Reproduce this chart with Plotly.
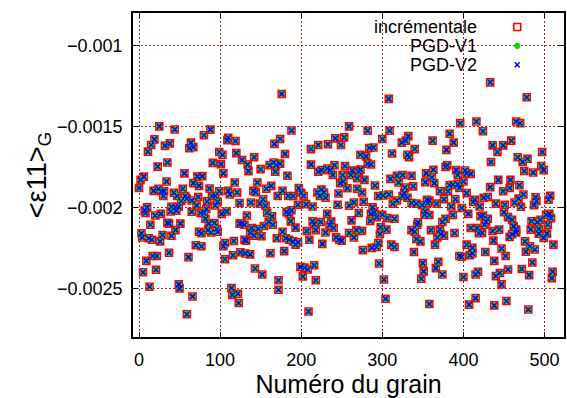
import plotly.graph_objects as go

# ---------------- data ----------------
# grain numbers and mean strain <eps11>_G (in units of 1e-3), grouped by grain range
g1 = [25, 44, 19, 15, 11, 32, 38, 23, 35, 56,
      6, 2, 34, 0, 18, 24, 28, 31, 30, 43,
      47, 54, 57, 52, 10, 7, 8, 20, 27, 40,
      45, 49, 46, 39, 37, 35, 51, 14, 45, 40,
      29, 3, 4, 12, 16, 26, 17, 22, 37, 9,
      21, 5, 13, 49, 50, 59]
e1 = [-1.500, -1.519, -1.580, -1.615, -1.656, -1.620, -1.605, -1.748, -1.723, -1.790,
      -1.810, -1.830, -1.840, -1.880, -1.898, -1.885, -1.900, -1.900, -1.930, -1.910,
      -1.930, -1.885, -1.930, -1.960, -2.000, -2.020, -2.035, -2.050, -2.040, -1.996,
      -1.998, -1.996, -2.020, -2.025, -2.100, -2.095, -2.100, -2.107, -2.140, -2.175,
      -2.170, -2.160, -2.186, -2.190, -2.200, -2.210, -2.300, -2.300, -2.280, -2.330,
      -2.385, -2.400, -2.490, -2.475, -2.500, -2.660]

g2 = [88, 80, 64, 62, 67, 110, 109, 119, 99, 103,
      120, 91, 101, 104, 72, 78, 67, 74, 118, 87,
      99, 110, 112, 121, 90, 94, 73, 84, 97, 65,
      59, 71, 94, 83, 65, 76, 80, 102, 108, 124,
      82, 86, 93, 96, 97, 85, 89, 74, 77, 124,
      70, 77, 61, 106, 104, 117, 106, 116, 125, 66,
      114, 115, 122, 123]
e2 = [-1.520, -1.555, -1.600, -1.635, -1.628, -1.570, -1.585, -1.590, -1.658, -1.675,
      -1.665, -1.725, -1.733, -1.790, -1.810, -1.807, -1.850, -1.867, -1.846, -1.883,
      -1.900, -1.897, -1.920, -1.908, -1.930, -1.930, -1.936, -1.963, -1.965, -1.957,
      -1.945, -1.988, -1.988, -2.010, -2.027, -2.035, -2.035, -2.040, -2.025, -1.973,
      -2.070, -2.100, -2.096, -2.133, -2.150, -2.140, -2.155, -2.150, -2.160, -2.100,
      -2.234, -2.240, -2.307, -2.220, -2.240, -2.207, -2.320, -2.295, -2.277, -2.550,
      -2.498, -2.540, -2.533, -2.590]

g3 = [176, 188, 174, 167, 180, 127, 142, 134, 135, 150,
      161, 166, 169, 174, 168, 183, 146, 141, 144, 157,
      163, 177, 171, 184, 190, 138, 153, 149, 156, 133,
      158, 164, 160, 165, 182, 185, 188, 187, 127, 130,
      139, 137, 147, 154, 142, 151, 177, 170, 181, 185,
      190, 130, 132, 179, 162, 131, 137, 143, 152, 172,
      172]
e3 = [-1.300, -1.525, -1.578, -1.608, -1.670, -1.707, -1.690, -1.735, -1.776, -1.764,
      -1.740, -1.723, -1.740, -1.730, -1.780, -1.805, -1.846, -1.898, -1.906, -1.885,
      -1.867, -1.897, -1.930, -1.930, -1.930, -1.970, -1.950, -1.977, -1.990, -2.050,
      -2.033, -2.055, -2.088, -2.107, -2.029, -2.040, -2.018, -2.086, -2.098, -2.107,
      -2.127, -2.158, -2.133, -2.115, -2.174, -2.178, -2.150, -2.190, -2.190, -2.200,
      -2.210, -2.200, -2.205, -2.270, -2.283, -2.285, -2.290, -2.377, -2.414, -2.450,
      -2.508]

g4 = [242, 253, 259, 233, 249, 221, 212, 212, 221, 225,
      232, 236, 241, 239, 254, 251, 248, 252, 197, 200,
      203, 220, 225, 228, 223, 230, 246, 196, 206, 214,
      245, 232, 214, 216, 224, 237, 235, 240, 218, 207,
      230, 243, 250, 247, 193, 210, 226, 196, 193, 199,
      204, 208, 216, 202, 218, 209, 257]
e4 = [-1.574, -1.568, -1.500, -1.610, -1.615, -1.615, -1.640, -1.736, -1.780, -1.770,
      -1.760, -1.770, -1.740, -1.800, -1.745, -1.800, -1.850, -1.840, -1.880, -1.910,
      -1.930, -1.908, -1.890, -1.908, -1.930, -1.940, -1.914, -1.984, -1.980, -1.994,
      -1.984, -2.040, -2.086, -2.104, -2.090, -2.088, -2.110, -2.127, -2.140, -2.146,
      -2.155, -2.185, -2.205, -2.200, -2.125, -2.200, -2.225, -2.215, -2.230, -2.367,
      -2.372, -2.383, -2.357, -2.426, -2.450, -2.643, -1.882]

g5 = [308, 282, 309, 300, 284, 289, 312, 273, 280, 282,
      286, 273, 271, 263, 261, 269, 278, 291, 310, 318,
      320, 269, 275, 295, 301, 308, 313, 318, 277, 265,
      259, 288, 290, 286, 271, 293, 300, 306, 315, 262,
      285, 298, 305, 268, 275, 259, 265, 297, 295, 293,
      287, 276, 311, 315, 296, 302, 304]
e5 = [-1.330, -1.527, -1.527, -1.578, -1.633, -1.630, -1.667, -1.675, -1.685, -1.730,
      -1.735, -1.767, -1.780, -1.773, -1.800, -1.820, -1.830, -1.865, -1.824, -1.805,
      -1.846, -1.885, -1.908, -1.930, -1.927, -1.920, -1.977, -1.957, -1.965, -1.970,
      -1.990, -2.000, -2.030, -2.040, -2.035, -2.060, -2.045, -2.066, -2.070, -2.080,
      -2.084, -2.123, -2.137, -2.140, -2.146, -2.158, -2.186, -2.164, -2.220, -2.244,
      -2.250, -2.264, -2.230, -2.244, -2.346, -2.445, -2.564]

g6 = [383, 362, 332, 329, 324, 388, 340, 379, 331, 333,
      380, 378, 363, 354, 325, 336, 361, 353, 364, 383,
      387, 338, 328, 381, 371, 327, 325, 331, 376, 355,
      358, 336, 342, 349, 356, 367, 385, 353, 352, 358,
      387, 378, 374, 344, 343, 336, 340, 360, 371, 372,
      368, 376, 389, 342, 347, 365, 339, 350, 369, 366,
      351, 374, 348, 358]
e6 = [-1.545, -1.588, -1.560, -1.588, -1.600, -1.600, -1.640, -1.645, -1.675, -1.690,
      -1.740, -1.750, -1.768, -1.790, -1.800, -1.805, -1.815, -1.844, -1.850, -1.863,
      -1.860, -1.870, -1.877, -1.900, -1.900, -1.912, -1.930, -1.940, -1.950, -1.953,
      -1.957, -1.973, -1.977, -1.986, -1.973, -1.977, -1.994, -2.025, -2.045, -2.047,
      -2.047, -2.070, -2.090, -2.092, -2.107, -2.140, -2.150, -2.140, -2.137, -2.164,
      -2.186, -2.174, -2.158, -2.195, -2.210, -2.230, -2.275, -2.344, -2.336, -2.375,
      -2.395, -2.414, -2.440, -2.596]

g7 = [433, 396, 416, 424, 436, 449, 442, 434, 391, 402,
      404, 409, 393, 400, 443, 393, 395, 433, 449, 404,
      430, 414, 412, 425, 420, 440, 451, 398, 390, 406,
      450, 421, 424, 430, 428, 426, 455, 409, 417, 419,
      423, 436, 444, 437, 404, 411, 408, 411, 395, 398,
      427, 447, 438, 452, 455, 418, 415, 445, 440, 400,
      447, 415, 407, 438, 453]
e7 = [-1.228, -1.480, -1.470, -1.530, -1.617, -1.617, -1.658, -1.720, -1.770, -1.772,
      -1.790, -1.793, -1.800, -1.840, -1.830, -1.855, -1.880, -1.875, -1.900, -1.912,
      -1.936, -1.953, -1.967, -1.940, -1.994, -1.977, -1.984, -2.004, -1.950, -2.040,
      -2.030, -2.055, -2.050, -2.070, -2.090, -2.107, -2.060, -2.127, -2.127, -2.160,
      -2.158, -2.146, -2.137, -2.205, -2.230, -2.250, -2.295, -2.285, -2.300, -2.305,
      -2.275, -2.254, -2.330, -2.300, -2.383, -2.397, -2.414, -2.405, -2.424, -2.430,
      -2.475, -2.560, -2.600, -2.605, -2.578]

g8 = [478, 465, 470, 459, 497, 467, 473, 479, 496, 499,
      475, 486, 458, 469, 457, 474, 468, 463, 471, 489,
      490, 487, 507, 505, 502, 506, 508, 460, 484, 491,
      495, 504, 462, 465, 465, 460, 457, 483, 493, 493,
      503, 499, 511, 476, 482, 488, 477, 485, 472, 481,
      510, 509, 480]
e8 = [-1.320, -1.470, -1.480, -1.588, -1.658, -1.690, -1.720, -1.700, -1.745, -1.770,
      -1.775, -1.785, -1.830, -1.863, -1.880, -1.920, -1.946, -1.970, -1.996, -1.937,
      -1.960, -1.986, -1.928, -1.953, -2.045, -2.040, -2.066, -2.076, -2.086, -2.092,
      -2.076, -2.107, -2.117, -2.137, -2.154, -2.166, -2.182, -2.137, -2.133, -2.162,
      -2.162, -2.188, -2.230, -2.210, -2.240, -2.260, -2.274, -2.340, -2.380, -2.418,
      -2.397, -2.437, -2.630]

series_names = ["incrémentale", "PGD-V1", "PGD-V2"]
x_ticks = [0, 100, 200, 300, 400, 500]
y_ticks = [-0.001, -0.0015, -0.002, -0.0025]
y_ticktext = ["\u22120.001", "\u22120.0015", "\u22120.002", "\u22120.0025"]

# ---------------- assemble ----------------
grain = g1 + g2 + g3 + g4 + g5 + g6 + g7 + g8
eps_e3 = e1 + e2 + e3 + e4 + e5 + e6 + e7 + e8
incr = [v * 1e-3 for v in eps_e3]
pgd_v1 = list(incr)   # indistinguishable from the incremental solution in the figure
pgd_v2 = list(incr)
series = [incr, pgd_v1, pgd_v2]

FONT = "Liberation Sans, Arial, Helvetica, sans-serif"
W, H = 567, 398
ML, MR, MT, MB = 133, 1, 13, 60
styles = [
    dict(symbol="square-open", size=7, color="#ff0000", line=dict(width=1.6)),
    dict(symbol="asterisk-open", size=5, color="#00e000", line=dict(width=2)),
    dict(symbol="x-thin-open", size=5, color="#0000ff", line=dict(width=1.5)),
]

fig = go.Figure()
for name, ys, st in zip(series_names, series, styles):
    fig.add_trace(go.Scatter(x=grain, y=ys, mode="markers", name=name,
                             marker=st, showlegend=False, cliponaxis=True))

# gnuplot-style key: text right-aligned, symbol to the right
pw, ph = W - ML - MR, H - MT - MB
def px_x(X):
    return (X - ML) / pw
def px_y(Y):
    return (H - MB - Y) / ph

key_text_x = px_x(481)
key_sym_x = px_x(519)
key_rows = [px_y(27), px_y(46), px_y(65)]
for name, yk, st in zip(series_names, key_rows, styles):
    fig.add_annotation(xref="paper", yref="paper", x=key_text_x, y=yk, text=name,
                       showarrow=False, xanchor="right", yanchor="middle",
                       font=dict(family=FONT, size=18, color="black"))
    fig.add_trace(go.Scatter(x=[key_sym_x], y=[yk], xaxis="x2", yaxis="y2",
                             mode="markers", marker=st, showlegend=False,
                             hoverinfo="skip"))

# white key box hides the grid behind it
fig.add_shape(type="rect", xref="paper", yref="paper",
              x0=px_x(345), x1=px_x(555), y0=px_y(77), y1=1.0,
              fillcolor="white", line=dict(width=0), layer="between")

grid = dict(showgrid=True, gridcolor="#b02020", gridwidth=1, griddash="2px,2px")
axis_common = dict(showline=True, linecolor="black", linewidth=1.5, mirror="allticks",
                   ticks="inside", ticklen=5, tickwidth=1, tickcolor="black",
                   zeroline=False, tickfont=dict(family=FONT, size=18, color="black"),
                   **grid)

fig.update_layout(
    width=W, height=H,
    margin=dict(l=ML, r=MR, t=MT, b=MB),
    paper_bgcolor="white", plot_bgcolor="white",
    showlegend=False,
    xaxis=dict(range=[-7.4, 524], tickmode="array", tickvals=x_ticks,
               ticklabelstandoff=6,
               title=dict(text="Numéro du grain", font=dict(family=FONT, size=25, color="black"),
                          standoff=9),
               **axis_common),
    yaxis=dict(range=[-0.0028, -0.0008], tickmode="array", tickvals=y_ticks,
               ticktext=y_ticktext, ticklabelstandoff=5,
               title=dict(text="&lt;ε11&gt;<sub>G</sub>",
                          font=dict(family=FONT, size=27, color="black"), standoff=3),
               **axis_common),
    xaxis2=dict(overlaying="x", range=[0, 1], visible=False, showgrid=False),
    yaxis2=dict(overlaying="y", range=[0, 1], visible=False, showgrid=False),
)

fig.write_html("out.html", config={"displayModeBar": False},
               post_script="document.body.style.margin='0';")
